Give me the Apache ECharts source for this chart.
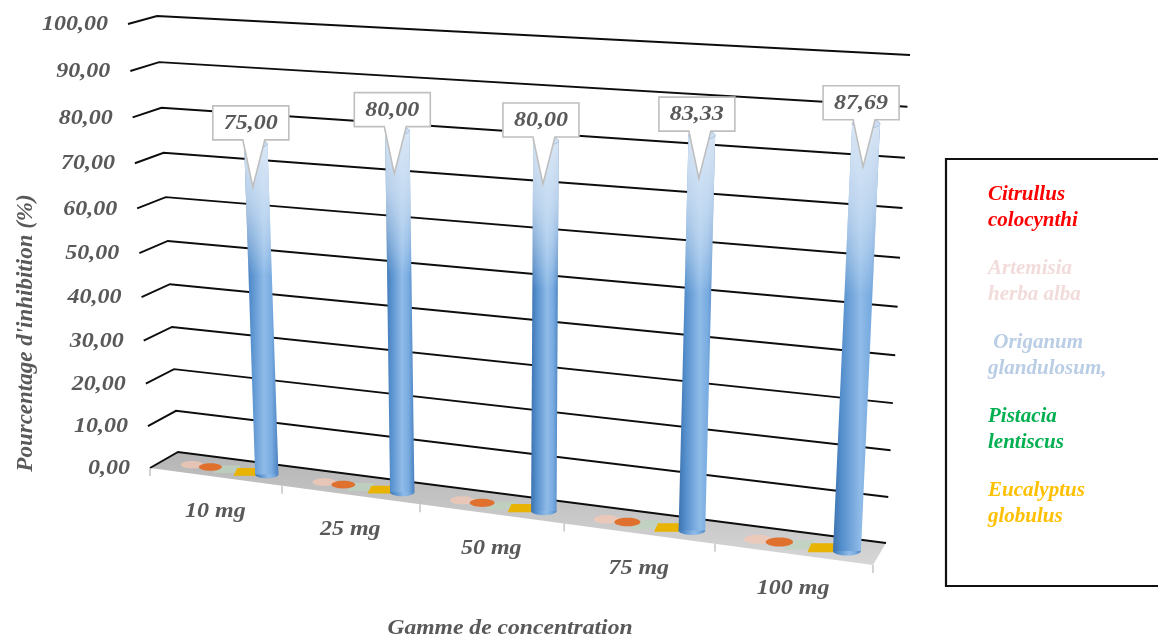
<!DOCTYPE html>
<html>
<head>
<meta charset="utf-8">
<script src="https://cdn.jsdelivr.net/npm/echarts@6/dist/echarts.min.js"></script>
<style>html,body{margin:0;padding:0;background:#fff}#c{width:1158px;height:637px}</style>
</head>
<body>
<div id="c"></div>
<script>
// ---------------- data ----------------
const categories = ['10 mg', '25 mg', '50 mg', '75 mg', '100 mg'];
const yTicks = [0, 10, 20, 30, 40, 50, 60, 70, 80, 90, 100];
const citrullus  = [0, 0, 0, 0, 0];
const artemisia  = [0, 0, 0, 0, 0];
const origanum   = [75.00, 80.00, 80.00, 83.33, 87.69];
const pistacia   = [0, 0, 0, 0, 0];
const eucalyptus = [0, 0, 0, 0, 0];
const seriesNames = ['Citrullus\ncolocynthi', 'Artemisia\nherba alba', ' Origanum\nglandulosum,', 'Pistacia\nlentiscus', 'Eucalyptus\nglobulus'];
const yTitle = "Pourcentage d'inhibition (%)";
const xTitle = 'Gamme de concentration';

// ---------------- styling / 3D frame ----------------
const FONT = '"Liberation Serif", "Times New Roman", serif';
const TXT = '#595959';
const V = {
  fTL: [-22, 0], fBR: [0, 97], fTR: [24, 43],          // front plane corner offsets vs grid rect
  dBL: [28, -16], dTL: [29, -8], dBR: [13, -22], dTR: [13, -12], // back plane offsets vs front
  px: 0.894, py: 0.938,                                // perspective warps
  depth: 0.45, hw: 0.088
};
function lerp(a, b, t) { return [a[0] + (b[0] - a[0]) * t, a[1] + (b[1] - a[1]) * t]; }
function add(a, b) { return [a[0] + b[0], a[1] + b[1]]; }
function projector(params) {
  const cs = params.coordSys;
  const L = cs.x, T = cs.y, W = cs.width, H = cs.height, R = L + W, B = T + H;
  const f = { bl: [L, B], tl: [L + V.fTL[0], T + V.fTL[1]], br: [R + V.fBR[0], B + V.fBR[1]], tr: [R + V.fTR[0], T + V.fTR[1]] };
  const b = { bl: add(f.bl, V.dBL), tl: add(f.tl, V.dTL), br: add(f.br, V.dBR), tr: add(f.tr, V.dTR) };
  function plane(p, u, s) { return lerp(lerp(p.bl, p.br, u), lerp(p.tl, p.tr, u), s); }
  return {
    W: W,
    norm(c) { return [(c[0] - L) / W, (B - c[1]) / H]; },
    P(u, s, d) {
      const uw = u * V.px / (1 + (V.px - 1) * u);
      const sw = s * V.py / (1 + (V.py - 1) * s);
      return lerp(plane(f, uw, sw), plane(b, uw, sw), d);
    }
  };
}
function fmt(v) { return v.toFixed(2).replace('.', ','); }
function txt(x, y, text, o) {
  o = o || {};
  return {
    type: 'text', x: x, y: y, scaleX: o.sx || 1.2, scaleY: o.sy || 1, rotation: o.rot || 0,
    style: { text: text, fontFamily: FONT, fontStyle: 'italic', fontWeight: 'bold', fontSize: o.size || 20,
      fill: o.color || TXT, align: o.align || 'center', verticalAlign: 'middle' }
  };
}

// walls, floor, gridlines and value labels
function wallRender(params, api) {
  const pr = projector(params);
  const t = api.value(1);
  const s = pr.norm(api.coord([0, t]))[1];
  const kids = [];
  if (t === 0) {
    kids.push({ type: 'polygon', shape: { points: [pr.P(0, 0, 0), pr.P(1, 0, 0), pr.P(1, 0, 1), pr.P(0, 0, 1)] },
      style: { fill: new echarts.graphic.LinearGradient(0, 0, 0, 1, [
        { offset: 0, color: '#b5b5b5' }, { offset: 1, color: '#d6d6d6' }]) } });
  }
  const fl = pr.P(0, s, 0), bl = pr.P(0, s, 1), br = pr.P(1, s, 1);
  kids.push({ type: 'polyline', shape: { points: [fl, bl, br] }, style: { stroke: '#0d0d0d', lineWidth: 1.9, fill: null } });
  kids.push(txt(fl[0] - 20, fl[1] + 1, fmt(t), { align: 'right' }));
  return { type: 'group', children: kids };
}

// category labels and ticks on the floor front edge
function catRender(params, api) {
  const pr = projector(params);
  const i = api.value(0);
  const c = api.coord([i, 0]);
  const bw = api.size([1, 0])[0];
  const u = pr.norm(c)[0], hu = bw / pr.W / 2;
  const mid = pr.P(u, 0, 0);
  const kids = [txt(mid[0], mid[1] + 35, categories[i])];
  const edges = [u - hu];
  if (i === categories.length - 1) edges.push(u + hu);
  edges.forEach(function (e) {
    const p = pr.P(e, 0, 0);
    kids.push({ type: 'line', shape: { x1: p[0], y1: p[1], x2: p[0], y2: p[1] + 8 }, style: { stroke: '#c4c4c4', lineWidth: 1.5 } });
  });
  return { type: 'group', children: kids };
}

// columns (cylinder / box) for each series
function colRender(kind, color, slot) {
  return function (params, api) {
    const pr = projector(params);
    const i = api.value(0), v = api.value(1);
    const c0 = api.coord([i, 0]);
    const bw = api.size([1, 0])[0];
    const uc = pr.norm([c0[0] + slot * bw, c0[1]])[0];
    const hw = V.hw * bw / pr.W;
    const sTop = pr.norm(api.coord([i, v]))[1];
    const d = V.depth;
    const Cb = pr.P(uc, 0, d), Ct = pr.P(uc, sTop, d);
    const rx = (pr.P(uc + hw, 0, d)[0] - pr.P(uc - hw, 0, d)[0]) / 2;
    const ry = rx * 0.33;
    const kids = [];
    if (v <= 0) {
      if (kind === 'box') {
        kids.push({ type: 'polygon', shape: { points: [[Cb[0] - rx - 2, Cb[1] + ry], [Cb[0] + rx - 2, Cb[1] + ry], [Cb[0] + rx + 2, Cb[1] - ry], [Cb[0] - rx + 2, Cb[1] - ry]] }, style: { fill: color } });
      } else {
        kids.push({ type: 'ellipse', shape: { cx: Cb[0], cy: Cb[1], rx: rx, ry: ry }, style: { fill: color } });
      }
      return { type: 'group', children: kids };
    }
    const hGrad = new echarts.graphic.LinearGradient(0, 0, 1, 0, [
      { offset: 0, color: '#3c72b0' }, { offset: 0.2, color: '#5690cd' }, { offset: 0.58, color: '#8fbbe8' },
      { offset: 0.8, color: '#78abe0' }, { offset: 1, color: '#4a81bf' }]);
    const vGrad = new echarts.graphic.LinearGradient(0, 0, 0, 1, [
      { offset: 0, color: 'rgba(222,233,246,0.95)' }, { offset: 0.16, color: 'rgba(215,229,245,0.78)' },
      { offset: 0.4, color: 'rgba(255,255,255,0)' }, { offset: 1, color: 'rgba(255,255,255,0)' }]);
    const body = [[Cb[0] - rx, Cb[1]], [Cb[0] + rx, Cb[1]], [Ct[0] + rx, Ct[1]], [Ct[0] - rx, Ct[1]]];
    kids.push({ type: 'ellipse', shape: { cx: Cb[0], cy: Cb[1], rx: rx, ry: ry }, style: { fill: hGrad } });
    kids.push({ type: 'polygon', shape: { points: body }, style: { fill: hGrad } });
    kids.push({ type: 'polygon', shape: { points: body }, style: { fill: vGrad } });
    kids.push({ type: 'ellipse', shape: { cx: Ct[0], cy: Ct[1], rx: rx, ry: ry }, style: { fill: '#cfdff1', stroke: 'rgba(150,180,215,0.7)', lineWidth: 1 } });
    // callout label
    const tip = [Ct[0] - 3, Ct[1] + 43];
    const w = 76, h = 34;
    const bx = tip[0] - 2 - w / 2, by = tip[1] - 47 - h;
    kids.push({ type: 'polygon', shape: { points: [[bx, by], [bx + w, by], [bx + w, by + h], [tip[0] + 12, by + h], tip, [tip[0] - 10, by + h], [bx, by + h]] },
      style: { fill: '#ffffff', stroke: '#bfbfbf', lineWidth: 1.6 } });
    kids.push(txt(bx + w / 2, by + h / 2 + 1, fmt(v)));
    return { type: 'group', children: kids };
  };
}

// z: drawing order on the floor (peach behind orange, bars on top)
const seriesDefs = [
  { name: seriesNames[0], values: citrullus,  kind: 'cyl', color: '#e0702e', slot: -0.13, legend: '#ff0000', z: 3 },
  { name: seriesNames[1], values: artemisia,  kind: 'cyl', color: 'rgba(245,200,180,0.75)', slot: -0.27, legend: '#f2dcdb', z: 2 },
  { name: seriesNames[2], values: origanum,   kind: 'cyl', color: '#5b9bd5', slot: 0.30, legend: '#b9cde5', z: 4 },
  { name: seriesNames[3], values: pistacia,   kind: 'box', color: 'rgba(190,212,190,0.7)', slot: 0.0, legend: '#00b050', z: 2 },
  { name: seriesNames[4], values: eucalyptus, kind: 'box', color: '#e8b302', slot: 0.15, legend: '#ffc000', z: 3 }
];

const chart = echarts.init(document.getElementById('c'), null, { renderer: 'canvas' });
const series = [
  { type: 'custom', id: 'walls', z: 1, silent: true, renderItem: wallRender, encode: { x: 0, y: 1 },
    data: yTicks.map(function (t) { return [0, t]; }) },
  { type: 'custom', id: 'cats', z: 1, silent: true, renderItem: catRender, encode: { x: 0, y: 1 },
    data: categories.map(function (c, i) { return [i, 0]; }) }
];
seriesDefs.forEach(function (sd) {
  series.push({ type: 'custom', name: sd.name, z: sd.z,
    renderItem: colRender(sd.kind, sd.color, sd.slot), encode: { x: 0, y: 1 }, itemStyle: { color: sd.color },
    data: sd.values.map(function (v, i) { return [i, v]; }) });
});

chart.setOption({
  animation: false,
  backgroundColor: '#ffffff',
  grid: { left: 150, top: 24, width: 723, height: 444, outerBoundsMode: 'none' },
  xAxis: { type: 'category', data: categories, show: false, boundaryGap: true },
  yAxis: { type: 'value', min: 0, max: 100, interval: 10, show: false },
  legend: {
    orient: 'vertical', left: 983, top: 182, padding: 0, icon: 'none', itemWidth: 0, itemHeight: 0, itemGap: 22,
    selectedMode: false,
    textStyle: { fontFamily: FONT, fontStyle: 'italic', fontWeight: 'bold', fontSize: 21, lineHeight: 26 },
    data: seriesDefs.map(function (sd) { return { name: sd.name, textStyle: { color: sd.legend } }; })
  },
  graphic: [
    { type: 'rect', shape: { x: 946, y: 159, width: 240, height: 427 }, style: { fill: null, stroke: '#111', lineWidth: 2.2 }, z: 0 },
    { type: 'text', x: 26, y: 333, rotation: Math.PI / 2, scaleX: 1.15, scaleY: 1.2,
      style: { text: yTitle, fontFamily: FONT, fontStyle: 'italic', fontWeight: 'bold', fontSize: 20, fill: TXT, align: 'center', verticalAlign: 'middle' } },
    { type: 'text', x: 510, y: 629, scaleX: 1.18,
      style: { text: xTitle, fontFamily: FONT, fontStyle: 'italic', fontWeight: 'bold', fontSize: 20, fill: TXT, align: 'center', verticalAlign: 'middle' } }
  ],
  series: series
});
</script>
</body>
</html>
